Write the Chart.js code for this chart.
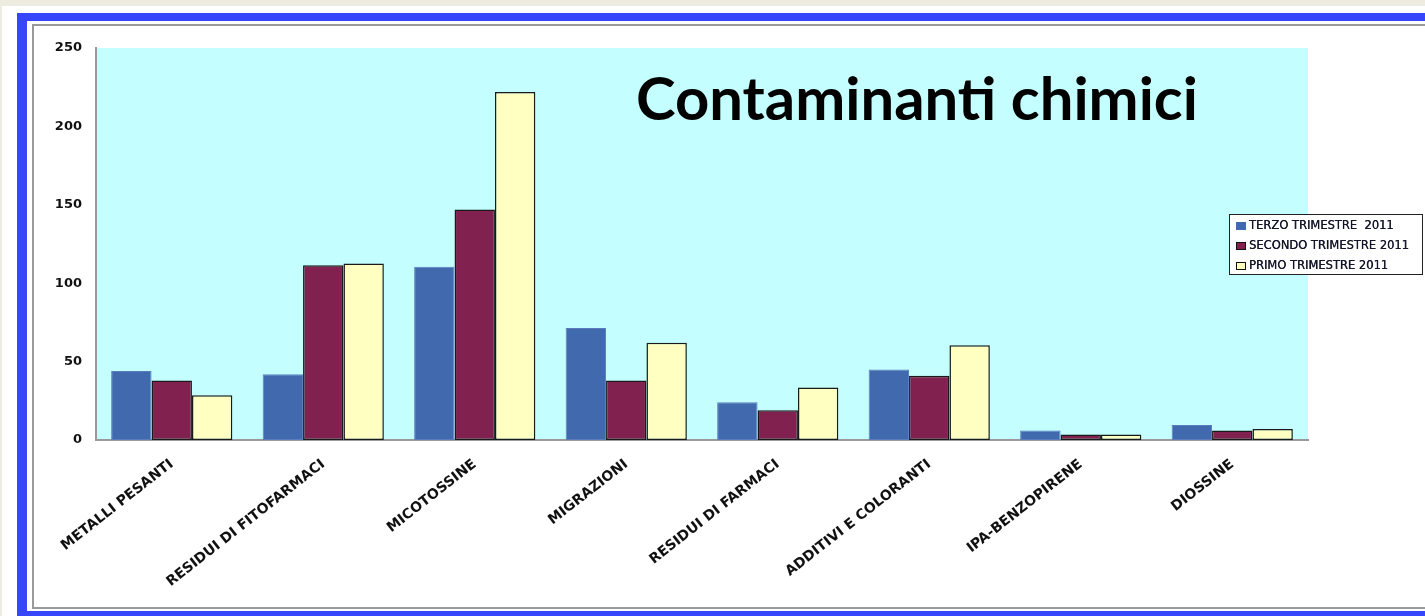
<!DOCTYPE html>
<html>
<head>
<meta charset="utf-8">
<script src="https://cdn.jsdelivr.net/npm/chart.js@4.4.1/dist/chart.umd.min.js"></script>
<style>
  html, body { margin: 0; padding: 0; width: 1425px; height: 616px; overflow: hidden; background: #eeebe1; }
  #white { position: absolute; left: 2px; top: 6px; width: 1500px; height: 700px; background: #ffffff; }
  #blue { position: absolute; left: 17px; top: 13px; width: 1500px; height: 606px; box-sizing: border-box;
          border-left: 10px solid #3646fb; border-top: 8px solid #3646fb; border-bottom: 8px solid #3646fb; }
  #grey { position: absolute; left: 32px; top: 24px; width: 1500px; height: 585px; box-sizing: border-box;
          border: 2px solid #9a9a9a; border-right: none; }
  #c { position: absolute; left: 0; top: 0; }
</style>
</head>
<body>
<div id="white"></div>
<div id="blue"></div>
<div id="grey"></div>
<canvas id="c" width="1425" height="616"></canvas>
<script>
const categories = ["METALLI PESANTI", "RESIDUI DI FITOFARMACI", "MICOTOSSINE", "MIGRAZIONI",
                    "RESIDUI DI FARMACI", "ADDITIVI E COLORANTI", "IPA-BENZOPIRENE", "DIOSSINE"];
const seriesLabels = ["TERZO TRIMESTRE  2011", "SECONDO TRIMESTRE 2011", "PRIMO TRIMESTRE 2011"];
const terzo   = [44, 42, 110.5, 71.5, 24, 45, 6, 9.5];
const secondo = [38, 111.5, 147, 38, 19, 41, 3.5, 6];
const primo   = [28.5, 112.5, 222, 62, 33.5, 60.5, 3.5, 7];
const yTicks  = [0, 50, 100, 150, 200, 250];
const titleText = "Contaminanti chimici";

const plotBg = {
  id: 'plotBg',
  beforeDraw(chart) {
    const {ctx, chartArea: a} = chart;
    ctx.save();
    ctx.fillStyle = '#c5fefe';
    ctx.fillRect(a.left, a.top, a.right - a.left, a.bottom - a.top);
    ctx.restore();
  }
};

const titlePlugin = {
  id: 'titleInside',
  afterDatasetsDraw(chart) {
    const ctx = chart.ctx;
    ctx.save();
    let size = 60;
    ctx.font = 'bold ' + size + 'px Lato, "Open Sans", sans-serif';
    const w = ctx.measureText(titleText).width;
    size = size * 562 / w;
    ctx.font = 'bold ' + size.toFixed(2) + 'px Lato, "Open Sans", sans-serif';
    ctx.fillStyle = '#000000';
    ctx.textAlign = 'left';
    ctx.textBaseline = 'alphabetic';
    ctx.fillText(titleText, 636, 120);
    ctx.restore();
  }
};

const legendBox = {
  id: 'legendBox',
  afterDraw(chart) {
    const ctx = chart.ctx;
    const x = 1229, y = 214, w = 193, h = 60;
    ctx.save();
    ctx.fillStyle = '#ffffff';
    ctx.fillRect(x, y, w, h);
    ctx.strokeStyle = '#222222';
    ctx.lineWidth = 1;
    ctx.strokeRect(x + 0.5, y + 0.5, w, h);
    ctx.font = '11.5px "DejaVu Sans", sans-serif';
    ctx.textBaseline = 'middle';
    ctx.textAlign = 'left';
    chart.data.datasets.forEach((ds, i) => {
      const cy = 226 + i * 20;
      ctx.fillStyle = ds.backgroundColor;
      ctx.fillRect(1236, cy - 4, 10, 8);
      if (i > 0) {
        ctx.strokeStyle = '#111111';
        ctx.lineWidth = 1;
        ctx.strokeRect(1236.5, cy - 3.5, 9, 7);
      }
      ctx.fillStyle = '#15152a';
      ctx.fillText(ds.label, 1249, cy + 0.5);
      ctx.fillText(ds.label, 1249.3, cy + 0.5);
    });
    ctx.restore();
  }
};

new Chart(document.getElementById('c'), {
  type: 'bar',
  data: {
    labels: categories,
    datasets: [
      { label: seriesLabels[0], data: terzo, backgroundColor: '#4169ae', borderColor: '#5a7cbd', borderWidth: 1 },
      { label: seriesLabels[1], data: secondo, backgroundColor: '#80214f', borderColor: '#1a1a1a', borderWidth: 1.5 },
      { label: seriesLabels[2], data: primo, backgroundColor: '#ffffc1', borderColor: '#1a1a1a', borderWidth: 1.5 }
    ]
  },
  options: {
    responsive: false,
    animation: false,
    devicePixelRatio: 1,
    layout: { padding: { left: 0, top: 48, right: 117, bottom: 0 } },
    datasets: { bar: { categoryPercentage: 0.8, barPercentage: 1.0, borderSkipped: false } },
    plugins: { legend: { display: false }, tooltip: { enabled: false }, title: { display: false } },
    scales: {
      x: {
        grid: { display: false, drawTicks: false },
        border: { display: true, color: '#999999', width: 2 },
        ticks: {
          autoSkip: false, minRotation: 38, maxRotation: 38, padding: 16,
          color: '#111111',
          font: { family: '"DejaVu Sans", sans-serif', weight: 'bold', size: 14 }
        },
        afterFit(scale) { scale.height = 176; }
      },
      y: {
        min: 0, max: 250,
        grid: { display: false, drawTicks: false },
        border: { display: true, color: '#999999', width: 2 },
        afterBuildTicks(scale) { scale.ticks = yTicks.map(v => ({ value: v })); },
        ticks: {
          padding: 14,
          color: '#111111',
          font: { family: '"DejaVu Sans", sans-serif', weight: 'bold', size: 13 }
        },
        afterFit(scale) { scale.width = 96; }
      }
    }
  },
  plugins: [plotBg, titlePlugin, legendBox]
});
</script>
</body>
</html>
